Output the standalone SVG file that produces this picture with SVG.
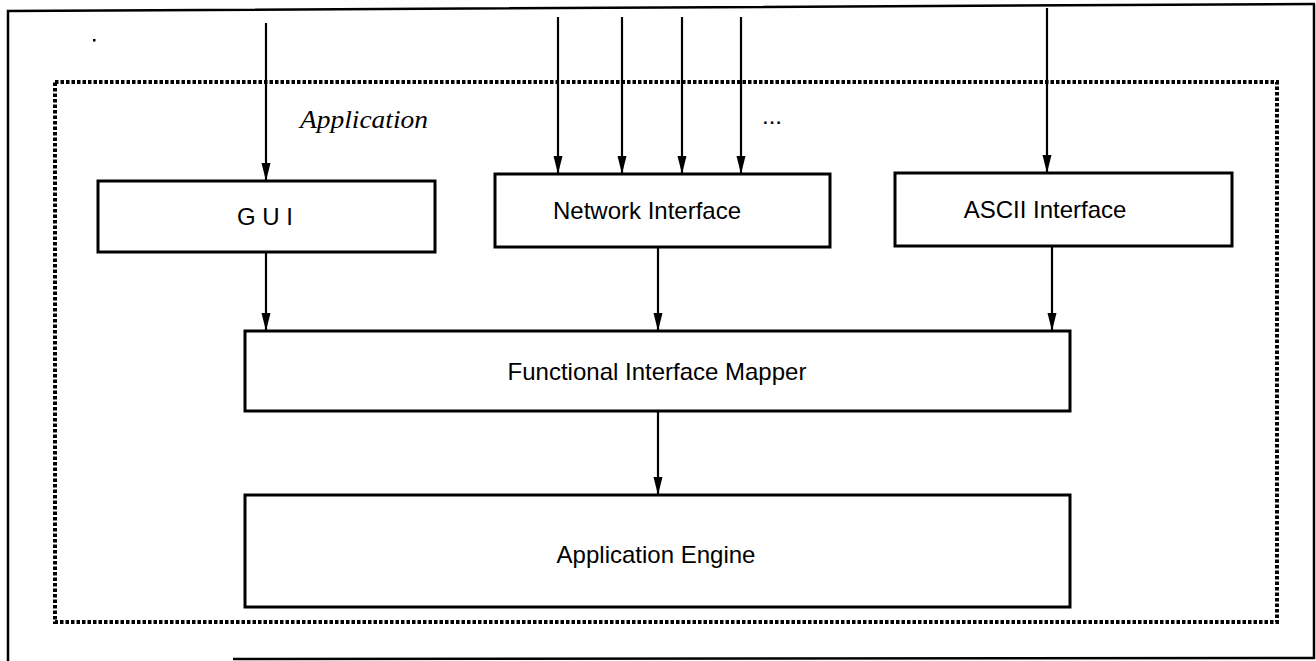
<svg xmlns="http://www.w3.org/2000/svg" width="1316" height="661" viewBox="0 0 1316 661">
<style>
.box{fill:#fff;stroke:#000;stroke-width:3}
.lbl{font-family:"Liberation Sans",Arial,sans-serif;font-size:24px;fill:#000;text-anchor:middle}
.frame{stroke:#000;stroke-width:2.5;fill:none}
.ln{stroke:#000;stroke-width:2.2;fill:none}
</style>
<g id="frame">
<path class="frame" d="M1315,4 L8,11 L8,661"/>
<path class="frame" d="M1314,4 L1314,658 L233,659"/>
<rect x="93" y="39" width="2.5" height="2.5" fill="#000"/>
</g>
<g id="application">
<rect x="55" y="82" width="1222" height="540" fill="none" stroke="#000" stroke-width="4" stroke-dasharray="3.5 2"/>
<text x="300" y="128" font-family="'Liberation Serif','Times New Roman',serif" font-style="italic" font-size="25" textLength="128" lengthAdjust="spacingAndGlyphs">Application</text>
<text x="772" y="124" class="lbl" font-size="22">...</text>
</g>
<g id="gui">
<rect class="box" x="98" y="181" width="337" height="71"/>
<text class="lbl" x="265" y="225" font-size="21">G U I</text>
</g>
<g id="network">
<rect class="box" x="495" y="174" width="335" height="73"/>
<text class="lbl" x="647" y="219">Network Interface</text>
</g>
<g id="ascii">
<rect class="box" x="895" y="173" width="337" height="73"/>
<text class="lbl" x="1045" y="218">ASCII Interface</text>
</g>
<g id="mapper">
<rect class="box" x="245" y="331" width="825" height="80"/>
<text class="lbl" x="657" y="380">Functional Interface Mapper</text>
</g>
<g id="engine">
<rect class="box" x="245" y="495" width="825" height="112"/>
<text class="lbl" x="656" y="563" font-size="26">Application Engine</text>
</g>
<g id="connectors">
<path class="ln" d="M266,23 V181"/>
<path class="ln" d="M558,17 V174"/>
<path class="ln" d="M622,17 V174"/>
<path class="ln" d="M682,17 V174"/>
<path class="ln" d="M741,17 V174"/>
<path class="ln" d="M1047,8 V173"/>
<path class="ln" d="M266,252 V331"/>
<path class="ln" d="M658,247 V331"/>
<path class="ln" d="M1052,246 V331"/>
<path class="ln" d="M658,411 V495"/>
<g fill="#000">
<path d="M261.5,163 L270.5,163 L266,181 Z"/>
<path d="M553.5,156 L562.5,156 L558,174 Z"/>
<path d="M617.5,156 L626.5,156 L622,174 Z"/>
<path d="M677.5,156 L686.5,156 L682,174 Z"/>
<path d="M736.5,156 L745.5,156 L741,174 Z"/>
<path d="M1042.5,155 L1051.5,155 L1047,173 Z"/>
<path d="M261.5,313 L270.5,313 L266,331 Z"/>
<path d="M653.5,313 L662.5,313 L658,331 Z"/>
<path d="M1047.5,313 L1056.5,313 L1052,331 Z"/>
<path d="M653.5,477 L662.5,477 L658,495 Z"/>
</g>
</g>
</svg>
